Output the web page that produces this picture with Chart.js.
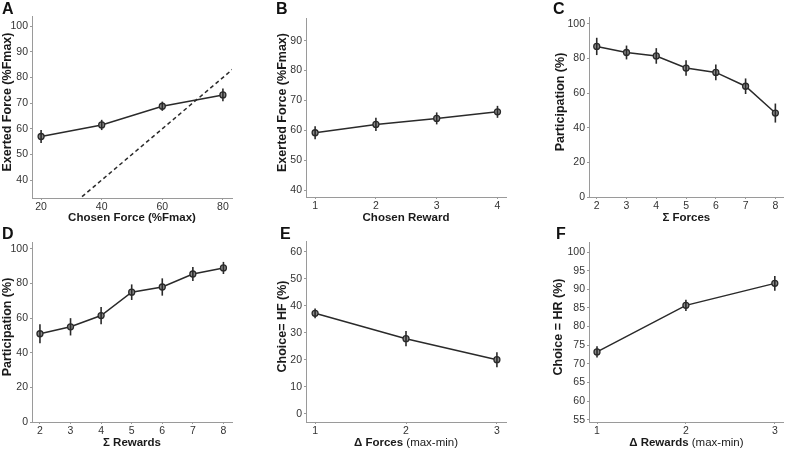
<!DOCTYPE html>
<html>
<head>
<meta charset="utf-8">
<script src="https://cdn.jsdelivr.net/npm/chart.js@4.4.1/dist/chart.umd.min.js"></script>
<style>
  html, body { margin: 0; padding: 0; background: #fff; }
  #wrap { position: relative; width: 789px; height: 450px; overflow: hidden; font-family: "Liberation Sans", Arial, sans-serif; }
  .cell { position: absolute; width: 263px; height: 225px; }
  .letter { position: absolute; font-weight: bold; font-size: 16px; color: #111; line-height: 16px; }
</style>
</head>
<body>
<div id="wrap"></div>
<script>
// ---- data ----
var forceLevels = [20, 40, 60, 80];
var exertedByForce = [57, 61.5, 68.8, 73.2];
var exertedByForceErr = [2.5, 2, 1.8, 2.5];
var identityLine = [0, 100];

var rewardLevels = [1, 2, 3, 4];
var exertedByReward = [59.2, 62, 64, 66.2];
var exertedByRewardErr = [2.2, 2.2, 2, 2];

var sumLevels = [2, 3, 4, 5, 6, 7, 8];
var participationForces = [87, 83.5, 81.5, 74.5, 72, 64, 48.5];
var participationForcesErr = [5, 4, 4.5, 4.5, 4.5, 4.5, 5.5];
var participationRewards = [51, 55, 61.5, 75, 78, 85.5, 89];
var participationRewardsErr = [5.5, 5, 5, 4.5, 5, 4, 3.5];

var deltaLevels = [1, 2, 3];
var choiceHF = [37.2, 27.8, 20];
var choiceHFErr = [1.8, 2.8, 2.8];
var choiceHR = [73.2, 85.7, 91.6];
var choiceHRErr = [1.5, 1.5, 2];

var yTicksA = [40, 50, 60, 70, 80, 90, 100];
var yTicksB = [40, 50, 60, 70, 80, 90];
var yTicksPct = [0, 20, 40, 60, 80, 100];
var yTicksE = [0, 10, 20, 30, 40, 50, 60];
var yTicksF = [55, 60, 65, 70, 75, 80, 85, 90, 95, 100];

var INK = "#2a2a2a";
var AXIS = "#9a9a9a";
var FONT = '"Liberation Sans", Arial, sans-serif';

function pts(xs, ys) {
  return xs.map(function (x, i) { return { x: x, y: ys[i] }; });
}

// error bars drawn through the chart's own scales
var errorBarPlugin = {
  id: "errorBars",
  afterDatasetsDraw: function (chart, args, opts) {
    if (!opts.errors) return;
    var ctx = chart.ctx, ys = chart.scales.y;
    var meta = chart.getDatasetMeta(0);
    var vals = chart.data.datasets[0].data;
    ctx.save();
    ctx.strokeStyle = INK;
    ctx.lineWidth = 1.6;
    meta.data.forEach(function (p, i) {
      var v = vals[i].y, e = opts.errors[i];
      ctx.beginPath();
      ctx.moveTo(p.x, ys.getPixelForValue(v + e));
      ctx.lineTo(p.x, ys.getPixelForValue(v - e));
      ctx.stroke();
    });
    ctx.restore();
  }
};

// axis titles (x title may mix bold + regular parts)
var titlePlugin = {
  id: "axisTitles",
  afterDraw: function (chart, args, opts) {
    var ctx = chart.ctx, ca = chart.chartArea;
    ctx.save();
    ctx.fillStyle = "#1a1a1a";
    ctx.textBaseline = "middle";
    // x title
    var parts = opts.xTitle || [];
    var total = 0;
    parts.forEach(function (s) {
      ctx.font = (s.bold ? "bold " : "") + "11.5px " + FONT;
      s.w = ctx.measureText(s.text).width;
      total += s.w;
    });
    var x = (ca.left + ca.right) / 2 - total / 2;
    ctx.textAlign = "left";
    parts.forEach(function (s) {
      ctx.font = (s.bold ? "bold " : "") + "11.5px " + FONT;
      ctx.fillText(s.text, x, opts.xTitleY);
      x += s.w;
    });
    // y title
    ctx.translate(opts.yTitleX, (ca.top + ca.bottom) / 2 - 5);
    ctx.rotate(-Math.PI / 2);
    ctx.textAlign = "center";
    ctx.font = "bold 12.5px " + FONT;
    ctx.fillText(opts.yTitle, 0, 0);
    ctx.restore();
  }
};

var panels = [
  { letter: "A", left: 0, top: 0, letterX: 2, box: [32, 16, 232, 198],
    xs: forceLevels, ys: exertedByForce, err: exertedByForceErr,
    xMin: 17, xMax: 83, yMin: 33, yMax: 104, yTicks: yTicksA, identity: true,
    xTitle: [{ text: "Chosen Force (%Fmax)", bold: true }], yTitle: "Exerted Force (%Fmax)", yTitleX: 8 },
  { letter: "B", left: 263, top: 0, letterX: 13, box: [43, 18, 243, 197],
    xs: rewardLevels, ys: exertedByReward, err: exertedByRewardErr,
    xMin: 0.85, xMax: 4.14, yMin: 37.7, yMax: 97.6, yTicks: yTicksB,
    xTitle: [{ text: "Chosen Reward", bold: true }], yTitle: "Exerted Force (%Fmax)", yTitleX: 20 },
  { letter: "C", left: 526, top: 0, letterX: 27, box: [63, 17, 262, 197],
    xs: sumLevels, ys: participationForces, err: participationForcesErr,
    xMin: 1.74, xMax: 8.28, yMin: 0, yMax: 104, yTicks: yTicksPct,
    xTitle: [{ text: "\u03A3 Forces", bold: true }], yTitle: "Participation (%)", yTitleX: 35 },
  { letter: "D", left: 0, top: 225, letterX: 2, box: [32, 17, 232, 197],
    xs: sumLevels, ys: participationRewards, err: participationRewardsErr,
    xMin: 1.74, xMax: 8.28, yMin: 0, yMax: 104, yTicks: yTicksPct,
    xTitle: [{ text: "\u03A3 Rewards", bold: true }], yTitle: "Participation (%)", yTitleX: 8 },
  { letter: "E", left: 263, top: 225, letterX: 17, box: [43, 16, 243, 197],
    xs: deltaLevels, ys: choiceHF, err: choiceHFErr,
    xMin: 0.9, xMax: 3.1, yMin: -3.1, yMax: 64, yTicks: yTicksE,
    xTitle: [{ text: "\u0394 Forces", bold: true }, { text: " (max-min)", bold: false }], yTitle: "Choice= HF (%)", yTitleX: 20 },
  { letter: "F", left: 526, top: 225, letterX: 30, box: [63, 17, 262, 197],
    xs: deltaLevels, ys: choiceHR, err: choiceHRErr,
    xMin: 0.91, xMax: 3.1, yMin: 54.4, yMax: 102.7, yTicks: yTicksF,
    xTitle: [{ text: "\u0394 Rewards", bold: true }, { text: " (max-min)", bold: false }], yTitle: "Choice = HR (%)", yTitleX: 33 }
];

var wrap = document.getElementById("wrap");

panels.forEach(function (p) {
  var cell = document.createElement("div");
  cell.className = "cell";
  cell.style.left = p.left + "px";
  cell.style.top = p.top + "px";
  cell.innerHTML = '<canvas width="263" height="225"></canvas>' +
    '<div class="letter" style="left:' + p.letterX + 'px;top:1px">' + p.letter + '</div>';
  wrap.appendChild(cell);

  var datasets = [{
    data: pts(p.xs, p.ys),
    borderColor: INK,
    borderWidth: 1.5,
    pointRadius: 3,
    pointBorderWidth: 1.3,
    pointBorderColor: INK,
    pointBackgroundColor: "#8a8a8a",
    tension: 0
  }];
  if (p.identity) {
    datasets.push({
      data: pts(identityLine, identityLine),
      borderColor: INK,
      borderWidth: 1.5,
      borderDash: [4, 3],
      pointRadius: 0,
      tension: 0
    });
  }

  var box = p.box;
  new Chart(cell.querySelector("canvas"), {
    type: "line",
    data: { datasets: datasets },
    plugins: [errorBarPlugin, titlePlugin],
    options: {
      responsive: false,
      animation: false,
      layout: { padding: { left: 0, top: box[1], right: 263 - box[2], bottom: 0 } },
      plugins: {
        legend: { display: false },
        tooltip: { enabled: false },
        errorBars: { errors: p.err },
        axisTitles: { xTitle: p.xTitle, xTitleY: 218, yTitle: p.yTitle, yTitleX: p.yTitleX }
      },
      scales: {
        x: {
          type: "linear",
          min: p.xMin,
          max: p.xMax,
          afterBuildTicks: function (s) { s.ticks = p.xs.map(function (v) { return { value: v }; }); },
          afterFit: function (s) { s.height = 225 - box[3]; },
          grid: { drawOnChartArea: false, tickLength: 2, color: AXIS },
          border: { color: AXIS, width: 1 },
          ticks: { color: "#333", font: { family: FONT, size: 10.5 }, padding: 1, maxRotation: 0 }
        },
        y: {
          min: p.yMin,
          max: p.yMax,
          afterBuildTicks: function (s) { s.ticks = p.yTicks.map(function (v) { return { value: v }; }); },
          afterFit: function (s) { s.width = box[0]; },
          grid: { drawOnChartArea: false, tickLength: 2, color: AXIS },
          border: { color: AXIS, width: 1 },
          ticks: { color: "#333", font: { family: FONT, size: 10.5 }, padding: 2 }
        }
      }
    }
  });
});
</script>
</body>
</html>
